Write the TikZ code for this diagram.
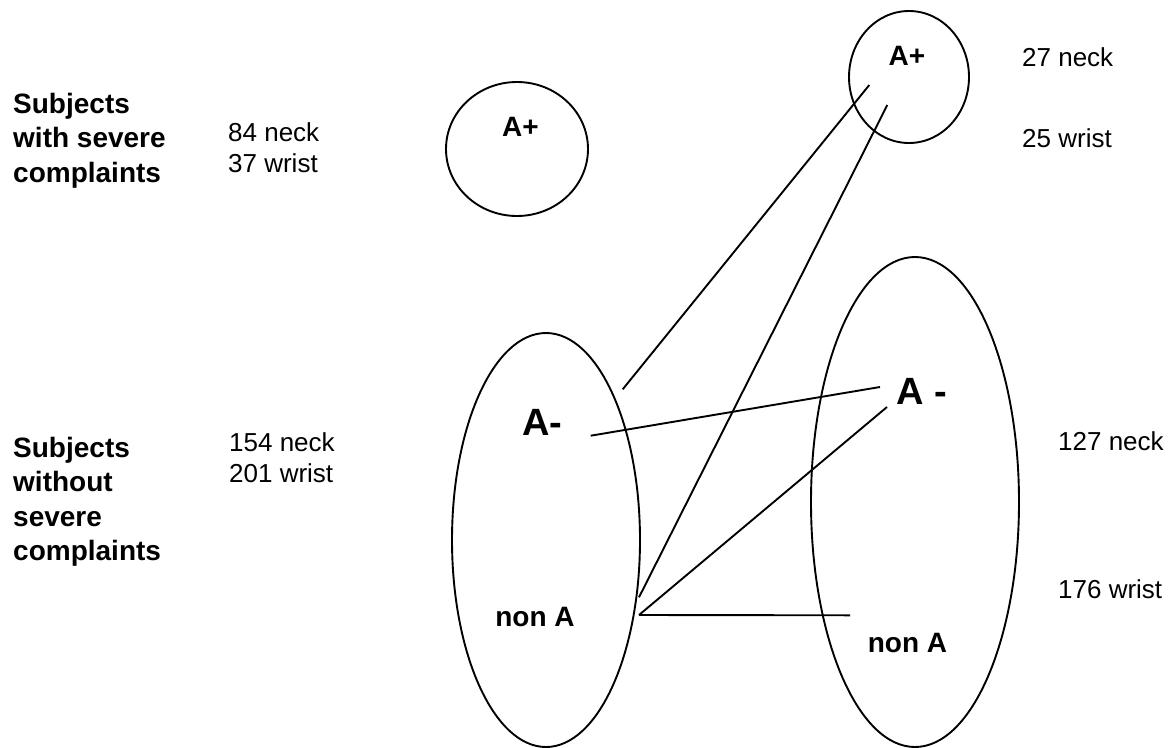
\documentclass[tikz,border=0pt]{standalone}
\usepackage{fontspec}
\setmainfont{Liberation Sans}
\usetikzlibrary{shapes.geometric}
\begin{document}
\begin{tikzpicture}[x=1pt,y=-1pt,
  ring/.style={draw, ellipse, line width=1.9pt, inner sep=0pt},
  link/.style={line width=1.9pt},
  side/.style={font=\fontsize{28}{34.5}\selectfont\bfseries, align=left, anchor=north west, inner sep=0pt},
  count/.style={font=\fontsize{26}{31}\selectfont, align=left, anchor=north west, inner sep=0pt},
  tag/.style={font=\fontsize{28}{34}\selectfont\bfseries, inner sep=0pt},
  bigtag/.style={font=\fontsize{38}{44}\selectfont\bfseries, inner sep=0pt}]
\useasboundingbox (0,0) rectangle (1170,747);

% group outlines
\node[ring, minimum width=142pt, minimum height=134pt] (sevL) at (517,149) {};
\node[ring, minimum width=120pt, minimum height=132pt] (sevR) at (909,77) {};
\node[ring, minimum width=188pt, minimum height=414pt] (nonL) at (546,540) {};
\node[ring, minimum width=208pt, minimum height=490pt] (nonR) at (915,502) {};

% labels inside the outlines
\node[tag] (apL) at (520.5,127) {A+};
\node[tag] (apR) at (907,55.5) {A+};
\node[bigtag] (amL) at (542.5,422.5) {A-};
\node[bigtag] (amR) at (921.5,391.5) {A -};
\node[tag] (naL) at (535,617) {non A};
\node[tag] (naR) at (907.5,643) {non A};

% row headings
\node[side] (rowsev) at (13,93) {Subjects\\with severe\\complaints};
\node[side] (rownon) at (13,437) {Subjects\\without\\severe\\complaints};

% counts
\node[count] (cntsevL) at (228,122) {84 neck\\37 wrist};
\node[count] (cntnonL) at (229,432) {154 neck\\201 wrist};
\node[count] (cntsevRn) at (1022,47) {27 neck};
\node[count] (cntsevRw) at (1022,128) {25 wrist};
\node[count] (cntnonRn) at (1058,431) {127 neck};
\node[count] (cntnonRw) at (1058,579) {176 wrist};

% connector end points
\coordinate (p1) at (869.3,85);
\coordinate (q1) at (622.7,389.3);
\coordinate (p2) at (887.3,105);
\coordinate (q2) at (639,597.3);
\coordinate (p3) at (590.7,435.7);
\coordinate (q3) at (880,387);
\coordinate (v) at (639,615);
\coordinate (q4) at (887,407);
\coordinate (q5) at (850,615.3);

% connectors
\draw[link] (p1) -- (q1);
\draw[link] (p2) -- (q2);
\draw[link] (p3) -- (q3);
\draw[link] (v) -- (q4);
\draw[link] (v) -- (q5);
\end{tikzpicture}
\end{document}
